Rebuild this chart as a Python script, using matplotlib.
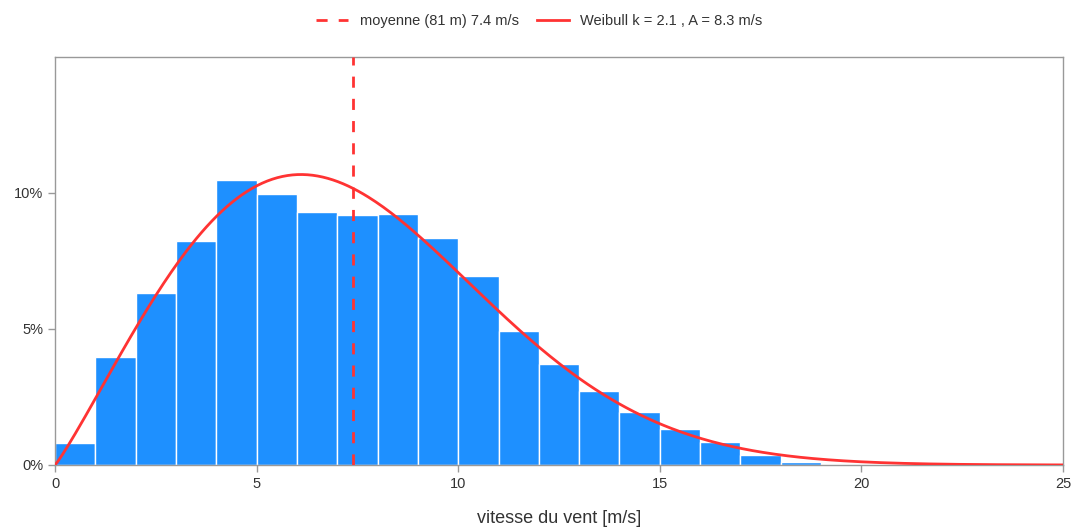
"""Histogramme des vitesses de vent avec ajustement de Weibull."""

import matplotlib

matplotlib.use("Agg")
import matplotlib.pyplot as plt
import numpy as np
from matplotlib.ticker import FuncFormatter

plt.rcParams["font.family"] = ["Liberation Sans", "DejaVu Sans"]

# classes de 1 m/s : bord gauche et fréquence (%)
bin_left = [0, 1, 2, 3, 4, 5, 6, 7, 8, 9, 10, 11, 12, 13, 14, 15, 16, 17, 18]
freq_pct = [0.80, 3.96, 6.34, 8.25, 10.48, 9.96, 9.30, 9.19, 9.23, 8.34,
            6.94, 4.93, 3.71, 2.72, 1.94, 1.31, 0.83, 0.36, 0.12]

mean_speed = 7.4
weibull_k = 2.1
weibull_a = 8.3

BLUE = "#1E90FF"
RED = "#FF3333"
FRAME = "#999999"
TEXT = "#333333"


def weibull_pct(v, k, a):
    return 100 * (k / a) * (v / a) ** (k - 1) * np.exp(-((v / a) ** k))


fig = plt.figure(figsize=(10.79, 5.27), dpi=100)
ax = fig.add_axes([55 / 1079, 1 - 465 / 527, (1063 - 55) / 1079, (465 - 57) / 527])

ax.bar(bin_left, freq_pct, width=1.0, align="edge", color=BLUE,
       edgecolor="white", linewidth=1.0, zorder=2)

v = np.linspace(0, 25, 400)
ax.plot(v, weibull_pct(v, weibull_k, weibull_a), color=RED, lw=2, zorder=3,
        label=f"Weibull k = {weibull_k} , A = {weibull_a} m/s")
ax.axvline(mean_speed, color=RED, lw=2, ls=(0, (4, 4)), zorder=3,
           label=f"moyenne (81 m) {mean_speed} m/s")

ax.set_xlim(0, 25)
ax.set_ylim(0, 15)
ax.set_xticks([0, 5, 10, 15, 20, 25])
ax.set_yticks([0, 5, 10])
ax.yaxis.set_major_formatter(FuncFormatter(lambda y, _: f"{y:.0f}%"))

for sp in ax.spines.values():
    sp.set_color(FRAME)
    sp.set_linewidth(1)
ax.tick_params(colors=FRAME, labelcolor=TEXT, labelsize=10.5, length=5, width=1)
ax.set_xlabel("vitesse du vent [m/s]", fontsize=13, color=TEXT, labelpad=14)

handles, labels = ax.get_legend_handles_labels()
fig.legend(handles[::-1], labels[::-1], loc="upper center", bbox_to_anchor=(0.5, 0.998),
           ncol=2, frameon=False, fontsize=10.5, handlelength=2.2, columnspacing=1.2,
           labelcolor=TEXT)

fig.savefig("out.png", dpi=100)
plt.close(fig)
